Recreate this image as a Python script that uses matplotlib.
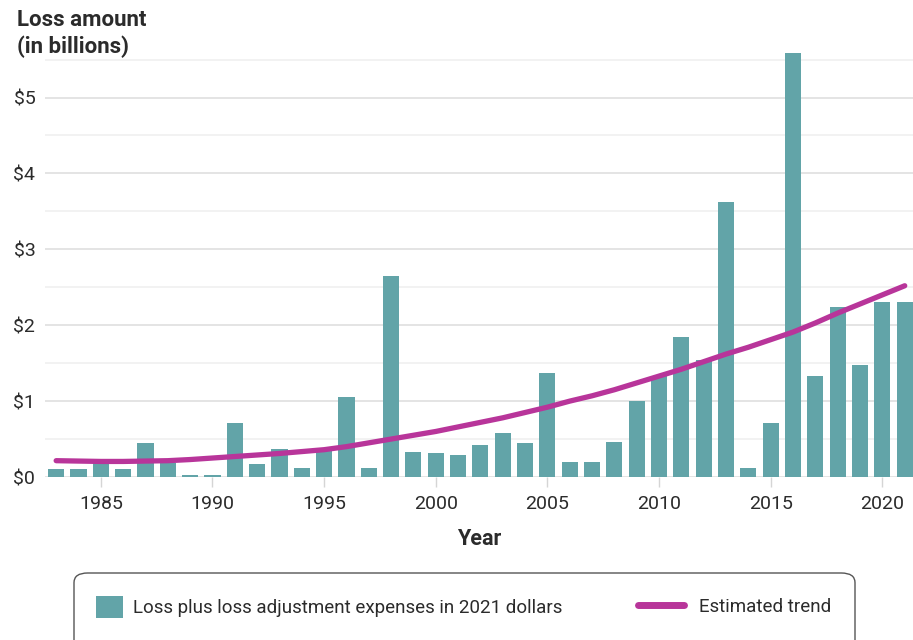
import matplotlib.pyplot as plt
from matplotlib.patches import Patch, FancyBboxPatch
from matplotlib.lines import Line2D
from matplotlib.ticker import MultipleLocator

plt.rcParams['font.family'] = ['Roboto', 'DejaVu Sans']

# Data (billions, 2021 dollars)
years = list(range(1983, 2022))
losses = [0.10, 0.10, 0.18, 0.10, 0.45, 0.18, 0.03, 0.03, 0.71, 0.175,
          0.37, 0.12, 0.34, 1.05, 0.12, 2.65, 0.33, 0.32, 0.29, 0.425,
          0.58, 0.45, 1.37, 0.20, 0.20, 0.46, 1.00, 1.33, 1.84, 1.545,
          3.63, 0.12, 0.71, 5.59, 1.33, 2.24, 1.47, 2.31, 2.31]
trend = [0.215, 0.21, 0.205, 0.205, 0.21, 0.215, 0.23, 0.25, 0.27, 0.29,
         0.31, 0.335, 0.36, 0.40, 0.45, 0.50, 0.55, 0.60, 0.66, 0.72,
         0.78, 0.85, 0.92, 1.00, 1.07, 1.15, 1.24, 1.33, 1.42, 1.52,
         1.62, 1.71, 1.81, 1.91, 2.03, 2.16, 2.28, 2.40, 2.52]
xticks = [1985, 1990, 1995, 2000, 2005, 2010, 2015, 2020]
yticks = [0, 1, 2, 3, 4, 5]

teal = "#62a4a8"
magenta = "#b8359a"
text_col = "#2b2b2b"

fig = plt.figure(figsize=(9.13, 6.4), dpi=100)
ax = fig.add_axes([45 / 913, 163 / 640, 868 / 913, 425 / 640])

ax.bar(years, losses, width=0.72, color=teal, zorder=2)
ax.plot(years, trend, color=magenta, lw=3.8, solid_capstyle="round", zorder=3)

ax.set_xlim(1982.5, 2021.37)
ax.set_ylim(0, 5.6)

# grid: whole dollars darker, half dollars lighter
ax.yaxis.set_major_locator(MultipleLocator(1))
ax.yaxis.set_minor_locator(MultipleLocator(0.5))
ax.grid(axis="y", which="major", color="#dcdcdc", lw=1.1, zorder=0)
ax.grid(axis="y", which="minor", color="#efefef", lw=1.1, zorder=0)
ax.set_axisbelow(True)

ax.set_yticks(yticks)
ax.set_yticklabels(["$%d" % v for v in yticks])
ax.set_xticks(xticks)
ax.set_xticklabels([str(v) for v in xticks])
ax.tick_params(axis="y", which="both", length=0, pad=7, labelsize=14, labelcolor=text_col)
ax.tick_params(axis="x", length=7, width=1, color="#d5d5d5", pad=6, labelsize=14, labelcolor=text_col)

for s in ax.spines.values():
    s.set_visible(False)

ax.set_xlabel("Year", fontsize=15.5, fontweight="bold", color=text_col, labelpad=11)
fig.text(17 / 913, 1 - 9 / 640, "Loss amount\n(in billions)", fontsize=16, fontweight="bold",
         color=text_col, ha="left", va="top", linespacing=1.25)

# legend box (runs off the bottom edge)
box = FancyBboxPatch((74 / 913, -0.1), 781 / 913, 0.1 + 67 / 640,
                     boxstyle="round,pad=0,rounding_size=0.015", transform=fig.transFigure,
                     facecolor="white", edgecolor="#555555", lw=1)
fig.patches.append(box)

leg_y = 1 - 607 / 640
fig.legend([Patch(facecolor=teal, edgecolor="none")],
           ["Loss plus loss adjustment expenses in 2021 dollars"],
           loc="center left", bbox_to_anchor=(96 / 913, leg_y), frameon=False,
           fontsize=13.5, borderpad=0, borderaxespad=0, handlelength=1.44,
           handleheight=1.44, handletextpad=0.53, labelcolor=text_col)
fig.legend([Line2D([0], [0], color=magenta, lw=5, solid_capstyle="round")],
           ["Estimated trend"],
           loc="center left", bbox_to_anchor=(638 / 913, leg_y), frameon=False,
           fontsize=13.5, borderpad=0, borderaxespad=0, handlelength=2.45,
           handletextpad=0.8, labelcolor=text_col)

fig.savefig("out.png", dpi=100)
